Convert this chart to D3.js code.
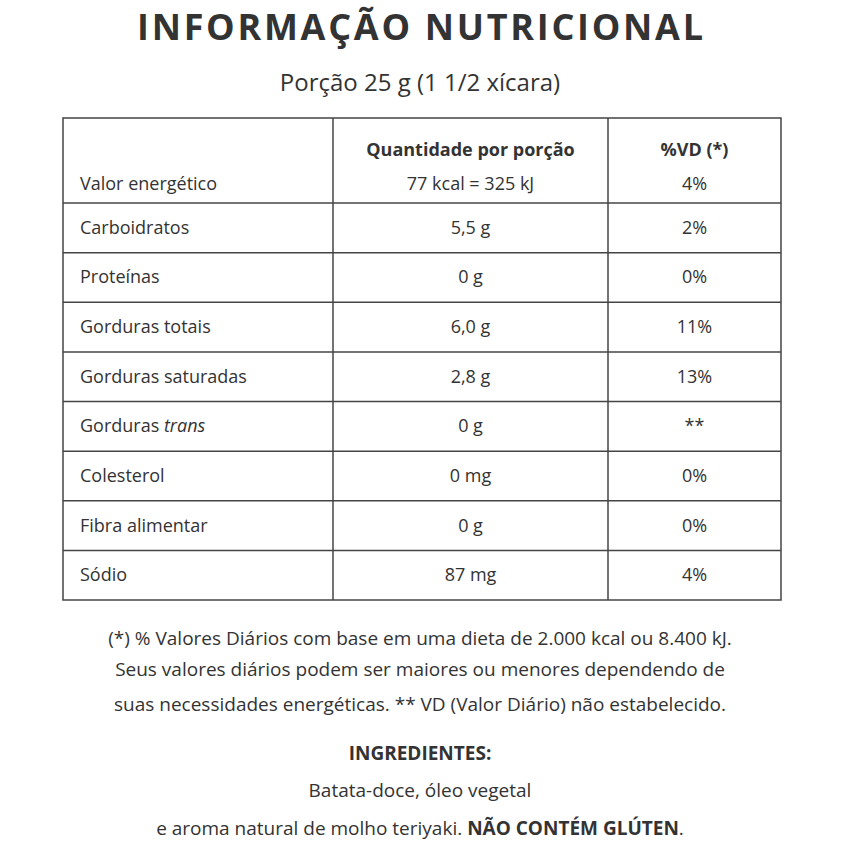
<!DOCTYPE html>
<html><head><meta charset="utf-8">
<script src="https://cdn.jsdelivr.net/npm/d3@7"></script>
<style>body{margin:0;background:#fff}</style>
</head><body>
<script>
const nutrients = ["Valor energético","Carboidratos","Proteínas","Gorduras totais","Gorduras saturadas","Gorduras trans","Colesterol","Fibra alimentar","Sódio"];
const amounts = ["77 kcal = 325 kJ","5,5 g","0 g","6,0 g","2,8 g","0 g","0 mg","0 g","87 mg"];
const dailyValues = ["4%","2%","0%","11%","13%","**","0%","0%","4%"];
const headers = ["Quantidade por porção","%VD (*)"];
const footnotes = ["(*) % Valores Diários com base em uma dieta de 2.000 kcal ou 8.400 kJ.","Seus valores diários podem ser maiores ou menores dependendo de","suas necessidades energéticas. ** VD (Valor Diário) não estabelecido."];

(function(){
const W=850,H=850,font="'Open Sans', 'Noto Sans', sans-serif",col="#333";
const svg=d3.select("body").append("svg").attr("width",W).attr("height",H);
svg.append("text").attr("x",420).attr("y",40).attr("text-anchor","middle").attr("font-family",font)
 .attr("font-weight",700).attr("font-size",36).attr("fill",col).attr("textLength",566).text("INFORMAÇÃO NUTRICIONAL");
svg.append("text").attr("x",420).attr("y",91).attr("text-anchor","middle").attr("font-family",font)
 .attr("font-size",24).attr("fill",col).text("Porção 25 g (1 1/2 xícara)");

const x0=63,x1=333,x2=608,x3=781,tableTop=118,headBottom=203,bottom=600;
const y=d3.scaleBand().domain(d3.range(1,nutrients.length)).range([headBottom,bottom]);
const g=svg.append("g").attr("font-family",font).attr("font-size",18).attr("fill",col);
g.append("rect").attr("x",x0).attr("y",tableTop).attr("width",x3-x0).attr("height",bottom-tableTop).attr("fill","none").attr("stroke","#444").attr("stroke-width",1.5);
[x1,x2].forEach(x=>g.append("line").attr("x1",x).attr("x2",x).attr("y1",tableTop).attr("y2",bottom).attr("stroke","#444").attr("stroke-width",1.5));
[headBottom,...d3.range(2,nutrients.length).map(i=>y(i))].forEach(yy=>g.append("line").attr("x1",x0).attr("x2",x3).attr("y1",yy).attr("y2",yy).attr("stroke","#444").attr("stroke-width",1.5));
g.append("text").attr("x",(x1+x2)/2).attr("y",156).attr("text-anchor","middle").attr("font-weight",700).text(headers[0]);
g.append("text").attr("x",(x2+x3)/2).attr("y",156).attr("text-anchor","middle").attr("font-weight",700).text(headers[1]);
nutrients.forEach((n,i)=>{
  const cy=i===0?190:y(i)+y.bandwidth()/2+6;
  const t=g.append("text").attr("x",80).attr("y",cy);
  if(n==="Gorduras trans"){t.append("tspan").text("Gorduras ");t.append("tspan").attr("font-style","italic").text("trans");}
  else t.text(n);
  g.append("text").attr("x",(x1+x2)/2).attr("y",cy).attr("text-anchor","middle").text(amounts[i]);
  g.append("text").attr("x",(x2+x3)/2).attr("y",cy).attr("text-anchor","middle").text(dailyValues[i]);
});
const f=svg.append("g").attr("font-family",font).attr("font-size",19).attr("fill",col).attr("text-anchor","middle");
footnotes.forEach((t,i)=>f.append("text").attr("x",420).attr("y",[645,676,711][i]).text(t));
f.append("text").attr("x",420).attr("y",760).attr("font-weight",700).text("INGREDIENTES:");
f.append("text").attr("x",420).attr("y",797).text("Batata-doce, óleo vegetal");
const l=f.append("text").attr("x",420).attr("y",835);
l.append("tspan").text("e aroma natural de molho teriyaki. ");
l.append("tspan").attr("font-weight",700).text("NÃO CONTÉM GLÚTEN");
l.append("tspan").text(".");
})();
</script>
</body></html>
